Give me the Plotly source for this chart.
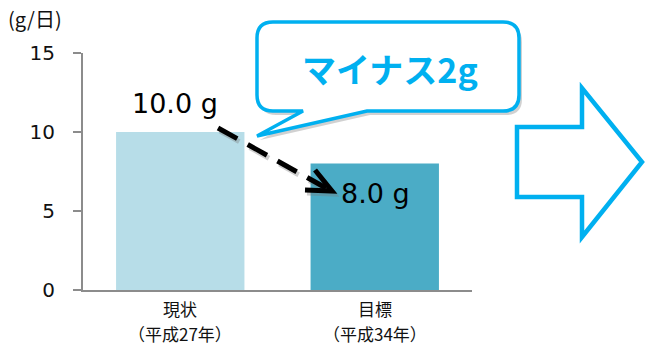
import plotly.graph_objects as go

# ---- data ----
categories = ["現状", "目標"]
category_sub = ["（平成27年）", "（平成34年）"]
values = [10.0, 8.0]
bar_colors = ["#B7DDE8", "#4BACC6"]
y_ticks = [0, 5, 10, 15]
unit_label = "(g/日)"
callout_text = "マイナス2g"

W, H = 645, 345
L, R, T, B = 83, 173, 53, 55
PW, PH = W - L - R, H - T - B
BLUE = "#00B0F0"


def px(x):
    return (x - L) / PW


def py(y):
    return (H - B - y) / PH


def pth(points, close=True):
    s = "M " + " L ".join(f"{px(x):.5f},{py(y):.5f}" for x, y in points)
    return s + (" Z" if close else "")


fig = go.Figure()
fig.add_trace(go.Bar(
    x=list(range(len(categories))), y=values,
    marker=dict(color=bar_colors, line=dict(width=0)),
    width=0.66, hoverinfo="skip",
))

fig.update_layout(
    width=W, height=H,
    margin=dict(l=L, r=R, t=T, b=B, autoexpand=False),
    paper_bgcolor="white", plot_bgcolor="white",
    showlegend=False,
    font=dict(family="DejaVu Sans", color="#000"),
    xaxis=dict(
        range=[-0.5, len(categories) - 0.5],
        tickvals=list(range(len(categories))),
        showticklabels=False, automargin=False,
        showline=True, linecolor="#8C8C8C", linewidth=2,
        ticks="", showgrid=False, zeroline=False, fixedrange=True,
    ),
    yaxis=dict(
        range=[0, 15], tickvals=y_ticks, automargin=False,
        tickfont=dict(family="DejaVu Sans", size=20, color="#111"),
        showline=True, linecolor="#8C8C8C", linewidth=2,
        ticks="outside", ticklen=8, tickcolor="#8C8C8C", tickwidth=2,
        ticklabelstandoff=14,
        showgrid=False, zeroline=False, fixedrange=True,
    ),
)

# category labels (two lines each)
for i, (c, s) in enumerate(zip(categories, category_sub)):
    fig.add_annotation(x=i, xref="x", yref="paper", y=py(308), text=c,
                       showarrow=False, xanchor="center", yanchor="middle",
                       font=dict(family="Noto Sans CJK JP", size=17, color="#111"))
    fig.add_annotation(x=i, xref="x", yref="paper", y=py(333), text=s,
                       showarrow=False, xanchor="center", yanchor="middle",
                       font=dict(family="Noto Sans CJK JP", size=17, color="#111"))

# unit label
fig.add_annotation(xref="paper", yref="paper", x=px(6), y=py(18),
                   xanchor="left", yanchor="middle", showarrow=False,
                   text=unit_label,
                   font=dict(family="Noto Sans CJK JP", size=20, color="#111"))

# value labels
fig.add_annotation(x=0, y=values[0], xref="x", yref="y", text=f"{values[0]:.1f} g",
                   showarrow=False, yanchor="middle", yshift=29, xshift=-5,
                   font=dict(family="DejaVu Sans", size=27, color="#000"))
fig.add_annotation(x=1, y=values[1], xref="x", yref="y", text=f"{values[1]:.1f} g",
                   showarrow=False, yanchor="middle", yshift=-30, xshift=1,
                   font=dict(family="DejaVu Sans", size=27, color="#000"))

shapes = []
# dashed arrow (shadow + main)
start, tip = (218, 128), (332, 191)
wing1, wing2 = (315, 170), (305, 190)
for dx, dy, col, op in [(2, 3, "#777", 0.35), (0, 0, "#000", 1.0)]:
    shapes.append(dict(type="line", xref="paper", yref="paper",
                       x0=px(start[0] + dx), y0=py(start[1] + dy),
                       x1=px(tip[0] - 6 + dx), y1=py(tip[1] - 3 + dy),
                       line=dict(color=col, width=5, dash="22px,12px"),
                       opacity=op, layer="above"))
    shapes.append(dict(type="path", xref="paper", yref="paper",
                       path=pth([(wing1[0] + dx, wing1[1] + dy),
                                 (tip[0] + dx, tip[1] + dy),
                                 (wing2[0] + dx, wing2[1] + dy)], close=False),
                       line=dict(color=col, width=5), opacity=op, layer="above"))

# callout bubble
cl, cr, ct, cb, r = 257, 519, 22, 111, 16
tail = [(367, cb), (257, 136), (303, cb)]


def bubble(dx, dy):
    s = f"M {px(cl + r + dx):.5f},{py(ct + dy):.5f}"
    s += f" L {px(cr - r + dx):.5f},{py(ct + dy):.5f}"
    s += f" Q {px(cr + dx):.5f},{py(ct + dy):.5f} {px(cr + dx):.5f},{py(ct + r + dy):.5f}"
    s += f" L {px(cr + dx):.5f},{py(cb - r + dy):.5f}"
    s += f" Q {px(cr + dx):.5f},{py(cb + dy):.5f} {px(cr - r + dx):.5f},{py(cb + dy):.5f}"
    for x, y in tail:
        s += f" L {px(x + dx):.5f},{py(y + dy):.5f}"
    s += f" L {px(cl + r + dx):.5f},{py(cb + dy):.5f}"
    s += f" Q {px(cl + dx):.5f},{py(cb + dy):.5f} {px(cl + dx):.5f},{py(cb - r + dy):.5f}"
    s += f" L {px(cl + dx):.5f},{py(ct + r + dy):.5f}"
    s += f" Q {px(cl + dx):.5f},{py(ct + dy):.5f} {px(cl + r + dx):.5f},{py(ct + dy):.5f} Z"
    return s


shapes.append(dict(type="path", xref="paper", yref="paper", path=bubble(3, 4),
                   fillcolor="rgba(0,0,0,0.18)", line=dict(width=0), layer="above"))
shapes.append(dict(type="path", xref="paper", yref="paper", path=bubble(0, 0),
                   fillcolor="white", line=dict(color=BLUE, width=3.5), layer="above"))

# block arrow
arrow = [(517, 127), (582, 127), (582, 88), (642, 162), (582, 237), (582, 197), (517, 197)]
shapes.append(dict(type="path", xref="paper", yref="paper", path=pth(arrow),
                   fillcolor="rgba(0,0,0,0)", line=dict(color=BLUE, width=4.5),
                   layer="above"))

fig.update_layout(shapes=shapes)

fig.add_annotation(xref="paper", yref="paper", x=px(390), y=py(68),
                   xanchor="center", yanchor="middle", showarrow=False,
                   text=f"<b>{callout_text}</b>",
                   font=dict(family="Noto Sans CJK JP", size=34, color=BLUE))

fig.write_html("out.html")
